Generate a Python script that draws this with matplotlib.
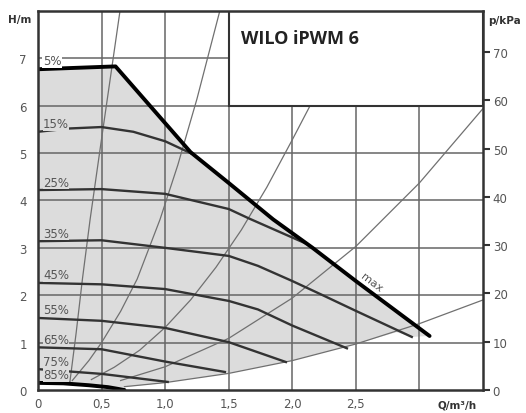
import matplotlib
matplotlib.use('Agg')
import matplotlib.pyplot as plt
from matplotlib.patches import Rectangle

# Max curve (thick, "5%" / max)
q_max = [0, 0.61, 0.9, 1.2, 1.5, 1.85, 2.16, 2.5, 3.08]
h_max = [6.77, 6.83, 5.94, 5.02, 4.37, 3.6, 3.0, 2.3, 1.14]

# PWM curves
pwm_labels = ['15%', '25%', '35%', '45%', '55%', '65%', '75%']
pwm_q = [
    [0, 0.25, 0.5, 0.75, 1.0, 1.2],
    [0, 0.5, 1.0, 1.5, 1.66, 2.1],
    [0, 0.5, 1.0, 1.5, 1.73, 2.0, 2.24, 2.5, 2.94],
    [0, 0.5, 1.0, 1.5, 1.73, 2.0, 2.43],
    [0, 0.5, 1.0, 1.5, 1.95],
    [0, 0.5, 1.0, 1.47],
    [0, 0.5, 1.02],
]
pwm_h = [
    [5.45, 5.52, 5.55, 5.45, 5.25, 5.0],
    [4.22, 4.24, 4.14, 3.82, 3.62, 3.1],
    [3.14, 3.16, 3.0, 2.83, 2.62, 2.3, 2.0, 1.67, 1.12],
    [2.26, 2.23, 2.13, 1.88, 1.7, 1.36, 0.88],
    [1.52, 1.46, 1.31, 1.01, 0.59],
    [0.9, 0.86, 0.6, 0.38],
    [0.44, 0.34, 0.17],
]

# lowest curve (85%, thick)
q_min = [0, 0.2, 0.4, 0.55, 0.68]
h_min = [0.15, 0.14, 0.10, 0.06, 0.0]

# lower edge of the grey field
gray_q = [0, 0.2, 0.4, 0.55, 0.68, 1.0, 1.5, 2.0, 2.5, 2.82, 2.94, 3.08]
gray_h = [0.15, 0.14, 0.10, 0.06, 0.06, 0.155, 0.35, 0.62, 0.97, 1.22, 1.12, 1.14]

# system curves (thin)
sys_q = [
    [0.25, 0.30, 0.35, 0.41, 0.50, 0.57, 0.645],
    [0.27, 0.40, 0.50, 0.65, 0.78, 0.96, 1.10, 1.25, 1.43],
    [0.42, 0.6, 0.8, 1.0, 1.2, 1.4, 1.6, 1.8, 2.0, 2.14, 2.3],
    [0.65, 1.0, 1.5, 2.0, 2.5, 3.0, 3.5],
    [0.68, 1.0, 1.5, 2.0, 2.5, 3.0, 3.5],
]
sys_h = [
    [0.15, 1.2, 2.35, 3.6, 5.3, 6.6, 8.0],
    [0.2, 0.62, 1.0, 1.66, 2.34, 3.6, 4.75, 6.14, 8.0],
    [0.22, 0.48, 0.84, 1.32, 1.9, 2.59, 3.38, 4.28, 5.28, 6.0, 6.98],
    [0.2, 0.49, 1.09, 1.94, 3.03, 4.37, 5.94],
    [0.07, 0.155, 0.35, 0.62, 0.97, 1.40, 1.90],
]

x_ticks = [0, 0.5, 1.0, 1.5, 2.0, 2.5]
x_ticklabels = ['0', '0,5', '1,0', '1,5', '2,0', '2,5']
y_ticks = [0, 1, 2, 3, 4, 5, 6, 7]
kpa_ticks = [0, 10, 20, 30, 40, 50, 60, 70]

FILL = '#dcdcdc'
GRID = '#666666'
TXT = '#555555'

fig = plt.figure(figsize=(5.26, 4.14), dpi=100)
ax = fig.add_axes([0.0722, 0.0556, 0.846, 0.9155])
ax.set_xlim(0, 3.5)
ax.set_ylim(0, 8)

# grey operating field
ax.fill(q_max + gray_q[::-1], h_max + gray_h[::-1], color=FILL, lw=0, zorder=1)

# grid
for q in [0.5, 1.0, 1.5, 2.0, 2.5, 3.0]:
    ax.axvline(q, color=GRID, lw=1.1, zorder=2)
for h in range(1, 8):
    ax.axhline(h, color=GRID, lw=1.1, zorder=2)

for q, h in zip(sys_q, sys_h):
    ax.plot(q, h, color='#707070', lw=0.9, zorder=3)

for q, h in zip(pwm_q, pwm_h):
    ax.plot(q, h, color='#333333', lw=1.7, zorder=4)

ax.plot(q_max, h_max, color='black', lw=2.8, zorder=5, solid_capstyle='round')
ax.plot(q_min, h_min, color='black', lw=2.8, zorder=5, solid_capstyle='round')

# curve labels
lab_kw = dict(textcoords='offset pixels', fontsize=8.5, color=TXT, va='center', ha='left', zorder=6)
ax.annotate('5%', (0, h_max[0]), xytext=(5, 9),
            bbox=dict(facecolor='white', edgecolor='none', pad=0.6), **lab_kw)
for lab, q, h in zip(pwm_labels, pwm_q, pwm_h):
    ax.annotate(lab, (0, h[0]), xytext=(5, 8),
                bbox=dict(facecolor=FILL, edgecolor='none', pad=0.3), **lab_kw)
ax.annotate('85%', (0, h_min[0]), xytext=(5, 8),
            bbox=dict(facecolor=FILL, edgecolor='none', pad=0.3), **lab_kw)

ax.text(2.6, 2.2, 'max', rotation=-37, rotation_mode='anchor', fontsize=8,
        color=TXT, ha='center', va='bottom', zorder=6)

# title box
ax.add_patch(Rectangle((1.5, 6.0), 2.0, 2.0, facecolor='white', edgecolor='#333333',
                       lw=1.5, zorder=7))
ax.text(1.6, 7.42, 'WILO iPWM 6', fontsize=13, fontweight='bold', family='Open Sans',
        color='#222222', ha='left', va='center', zorder=8)

# axes styling
for s in ax.spines.values():
    s.set_color('#333333')
    s.set_linewidth(1.8)
    s.set_zorder(9)
ax.set_xticks(x_ticks)
ax.set_xticklabels(x_ticklabels)
ax.set_yticks(y_ticks)
ax.tick_params(axis='both', length=0, labelsize=8.5, labelcolor=TXT)
ax.tick_params(axis='x', pad=5)
ax.tick_params(axis='y', pad=8)

ax2 = ax.twinx()
ax2.set_ylim(0, 8 * 9.81)
ax2.set_yticks(kpa_ticks)
ax2.tick_params(axis='y', length=5, width=1.5, color='#333333', labelsize=8.5,
                labelcolor=TXT, pad=2)
for s in ax2.spines.values():
    s.set_visible(False)

fig.text(8 / 526, 1 - 20 / 414, 'H/m', fontsize=7.5, fontweight='bold', color='#333333',
         ha='left', va='center')
fig.text(488 / 526, 1 - 21 / 414, 'p/kPa', fontsize=7.5, fontweight='bold', color='#333333',
         ha='left', va='center')
fig.text(438 / 526, 1 - 406 / 414, 'Q/m³/h', fontsize=7.5, fontweight='bold', color='#333333',
         ha='left', va='center')

fig.savefig('out.png', dpi=100, facecolor='white')
